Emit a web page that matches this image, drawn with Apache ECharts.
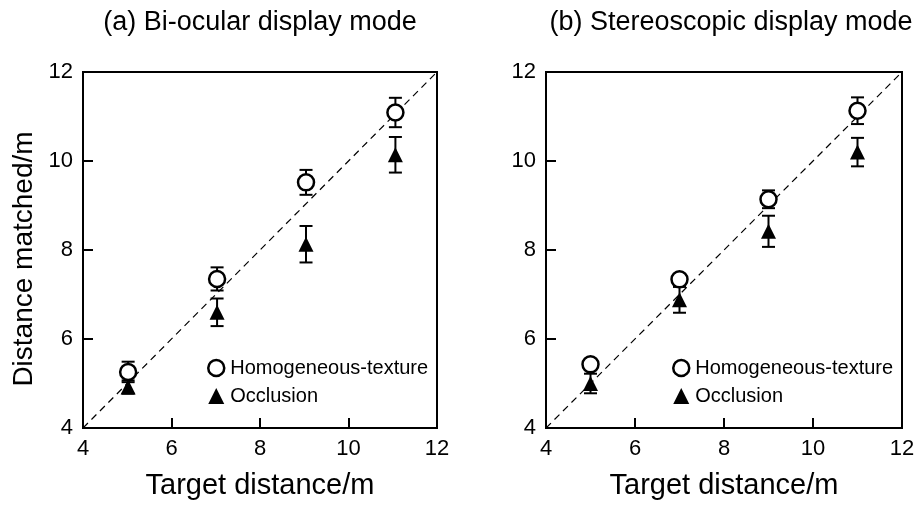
<!DOCTYPE html>
<html>
<head>
<meta charset="utf-8">
<script src="https://cdn.jsdelivr.net/npm/echarts@6/dist/echarts.min.js"></script>
<style>
  html, body { margin: 0; padding: 0; background: #fff; }
  #chart { width: 921px; height: 508px; }
</style>
</head>
<body>
<div id="chart"></div>
<script>
// values
var targetA = [5.02, 7.03, 9.04, 11.06];
var homogA = [5.26, 7.35, 9.52, 11.09];
var homogErrA = [0.23, 0.26, 0.28, 0.33];
var occlA = [4.92, 6.60, 8.13, 10.14];
var occlErrA = [0.15, 0.31, 0.41, 0.40];

var targetB = [5.0, 7.0, 9.0, 11.0];
var homogB = [5.43, 7.34, 9.14, 11.13];
var homogErrB = [0.10, 0.10, 0.20, 0.30];
var occlB = [5.0, 6.88, 8.42, 10.2];
var occlErrB = [0.22, 0.29, 0.35, 0.32];

var axisTicks = [4, 6, 8, 10, 12];
var diagonal = [[4, 4], [12, 12]];

var FONT = 'Liberation Sans, Arial, sans-serif';

function pairs(xs, ys) {
  return xs.map(function (x, i) { return [x, ys[i]]; });
}
function errRows(xs, ys, es) {
  return xs.map(function (x, i) { return [x, ys[i] - es[i], ys[i] + es[i]]; });
}

function renderErr(params, api) {
  var lo = api.coord([api.value(0), api.value(1)]);
  var hi = api.coord([api.value(0), api.value(2)]);
  var half = 6.5;
  var st = { stroke: '#000', lineWidth: 2 };
  return {
    type: 'group',
    children: [
      { type: 'line', shape: { x1: lo[0], y1: lo[1], x2: hi[0], y2: hi[1] }, style: st },
      { type: 'line', shape: { x1: lo[0] - half, y1: lo[1], x2: lo[0] + half, y2: lo[1] }, style: st },
      { type: 'line', shape: { x1: hi[0] - half, y1: hi[1], x2: hi[0] + half, y2: hi[1] }, style: st }
    ]
  };
}

function makeAxis(idx, isX) {
  return {
    type: 'value',
    gridIndex: idx,
    min: 4, max: 12, interval: 2,
    name: isX ? 'Target distance/m' : '',
    nameLocation: 'middle',
    nameGap: 43,
    nameTextStyle: { fontFamily: FONT, fontSize: 29, color: '#000' },
    axisLine: { show: true, lineStyle: { color: '#000', width: 2 } },
    axisTick: { show: true, inside: true, length: 10, lineStyle: { color: '#000', width: 2 } },
    axisLabel: {
      fontFamily: FONT, fontSize: 22, color: '#000', margin: 10,
      formatter: function (v) { return axisTicks.indexOf(v) >= 0 ? String(v) : ''; }
    },
    splitLine: { show: false }
  };
}

function panelSeries(idx, xs, hm, he, om, oe) {
  return [
    {
      type: 'line', xAxisIndex: idx, yAxisIndex: idx,
      data: diagonal, symbol: 'none', silent: true, z: 1,
      lineStyle: { color: '#000', width: 1.2, type: [7, 5] }
    },
    {
      type: 'custom', xAxisIndex: idx, yAxisIndex: idx, z: 2,
      renderItem: renderErr, data: errRows(xs, hm, he)
    },
    {
      type: 'custom', xAxisIndex: idx, yAxisIndex: idx, z: 2,
      renderItem: renderErr, data: errRows(xs, om, oe)
    },
    {
      name: 'Homogeneous-texture', type: 'scatter', xAxisIndex: idx, yAxisIndex: idx, z: 3,
      symbol: 'circle', symbolSize: 16,
      itemStyle: { color: '#fff', borderColor: '#000', borderWidth: 2.5, opacity: 1 },
      data: pairs(xs, hm)
    },
    {
      name: 'Occlusion', type: 'scatter', xAxisIndex: idx, yAxisIndex: idx, z: 3,
      symbol: 'triangle', symbolSize: 15,
      itemStyle: { color: '#000', opacity: 1 },
      data: pairs(xs, om)
    }
  ];
}

function makeLegend(left) {
  return {
    orient: 'vertical', left: left, top: 358, padding: 0,
    itemWidth: 16, itemHeight: 16, itemGap: 8,
    selectedMode: false,
    textStyle: { fontFamily: FONT, fontSize: 20, color: '#000', padding: [0, 0, 0, 1] },
    data: [
      { name: 'Homogeneous-texture', icon: 'circle',
        itemStyle: { color: '#fff', borderColor: '#000', borderWidth: 2.5 } },
      { name: 'Occlusion', icon: 'triangle', itemStyle: { color: '#000' } }
    ]
  };
}

var chart = echarts.init(document.getElementById('chart'), null, { renderer: 'canvas' });
chart.setOption({
  animation: false,
  backgroundColor: '#fff',
  title: [
    { text: '(a) Bi-ocular display mode', left: 255, top: 4, textAlign: 'center',
      textStyle: { fontFamily: FONT, fontSize: 27, fontWeight: 'normal', color: '#000' } },
    { text: '(b) Stereoscopic display mode', left: 726, top: 4, textAlign: 'center',
      textStyle: { fontFamily: FONT, fontSize: 27, fontWeight: 'normal', color: '#000' } }
  ],
  graphic: [{
    type: 'text', x: 24, y: 259, rotation: Math.PI / 2, silent: true,
    style: {
      text: 'Distance matched/m', fontFamily: FONT, fontSize: 28, fill: '#000',
      align: 'center', verticalAlign: 'middle'
    }
  }],
  legend: [makeLegend(207), makeLegend(672)],
  grid: [
    { left: 83, top: 72, width: 354, height: 356, show: true, borderColor: '#000', borderWidth: 2, backgroundColor: 'transparent' },
    { left: 546, top: 72, width: 356, height: 356, show: true, borderColor: '#000', borderWidth: 2, backgroundColor: 'transparent' }
  ],
  xAxis: [makeAxis(0, true), makeAxis(1, true)],
  yAxis: [makeAxis(0, false), makeAxis(1, false)],
  series: panelSeries(0, targetA, homogA, homogErrA, occlA, occlErrA)
    .concat(panelSeries(1, targetB, homogB, homogErrB, occlB, occlErrB))
});
</script>
</body>
</html>
